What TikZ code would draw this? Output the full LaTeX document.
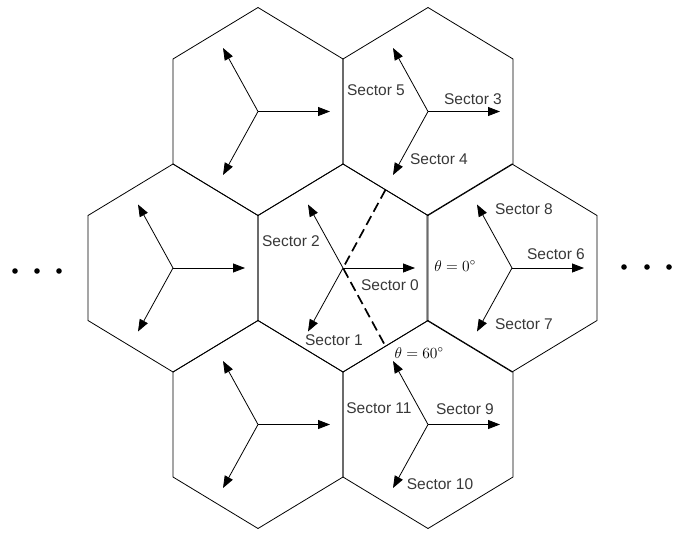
\RequirePackage{fix-cm}
\documentclass[tikz,border=0pt]{standalone}
\usepackage{fontspec}
\newfontfamily\labelfont{Liberation Sans}
\usetikzlibrary{arrows.meta}

\begin{document}
\begin{tikzpicture}[
      x=1pt, y=-1pt,
      cell/.style = {draw, line width=0.8pt, line join=miter},
      beam/.style = {-{Triangle[length=12pt, width=9pt]}, line width=0.8pt},
      sectorlbl/.style = {font=\labelfont\fontsize{15.5}{18}\selectfont,
                          text=black!78, inner sep=0pt},
      anglelbl/.style = {font=\fontsize{15.5}{18}\selectfont, inner sep=0pt},
      border/.style = {dash pattern=on 10pt off 5pt, line width=1.7pt},
      dot/.style = {fill=black}
    ]
    \useasboundingbox (0,0) rectangle (684,538);

    % cell centres
    \coordinate (top1) at (258,111.5);
    \coordinate (top2) at (428,111.5);
    \coordinate (mid1) at (173,268);
    \coordinate (mid2) at (343,268);
    \coordinate (mid3) at (512,268);
    \coordinate (bot1) at (258,424.5);
    \coordinate (bot2) at (428,424.5);

    % hexagonal cells with three sector antennas
    \foreach \c in {top1, top2, mid1, mid2, mid3, bot1, bot2} {
      \draw[cell] (\c) ++(0,-104) -- ++(85,51.5) -- ++(0,105) -- ++(-85,51.5)
                  -- ++(-85,-51.5) -- ++(0,-105) -- cycle;
      \path (\c) ++(72,0) coordinate (\c-e)
            (\c) ++(-35,-63.5) coordinate (\c-nw)
            (\c) ++(-35,63.5) coordinate (\c-sw);
      \draw[beam] (\c) -- (\c-e);
      \draw[beam] (\c) -- (\c-nw);
      \draw[beam] (\c) -- (\c-sw);
    }

    % sector boundary of the centre cell
    \coordinate (edgeup) at (385.5,189.75);
    \coordinate (edgedn) at (385.5,346.25);
    \draw[border] (edgeup) -- (mid2) -- (edgedn);

    % sector labels
    \node[sectorlbl] (s0)  at (390,285) {Sector 0};
    \node[sectorlbl] (s1)  at (334,340) {Sector 1};
    \node[sectorlbl] (s2)  at (291,241) {Sector 2};
    \node[sectorlbl] (s3)  at (473,99)  {Sector 3};
    \node[sectorlbl] (s4)  at (439,159) {Sector 4};
    \node[sectorlbl] (s5)  at (376,90)  {Sector 5};
    \node[sectorlbl] (s6)  at (556,254) {Sector 6};
    \node[sectorlbl] (s7)  at (524,324) {Sector 7};
    \node[sectorlbl] (s8)  at (524,209) {Sector 8};
    \node[sectorlbl] (s9)  at (465,409) {Sector 9};
    \node[sectorlbl] (s10) at (440,484) {Sector 10};
    \node[sectorlbl] (s11) at (379,408) {Sector 11};

    % angles
    \node[anglelbl] (th0)  at (455,266) {$\theta = 0^\circ$};
    \node[anglelbl] (th60) at (419,353) {$\theta = 60^\circ$};

    % more cells on either side
    \foreach \x in {15, 37, 59}   \fill[dot] (\x,271) circle (2.8);
    \foreach \x in {624, 647, 669} \fill[dot] (\x,267) circle (2.8);
  \end{tikzpicture}
\end{document}
